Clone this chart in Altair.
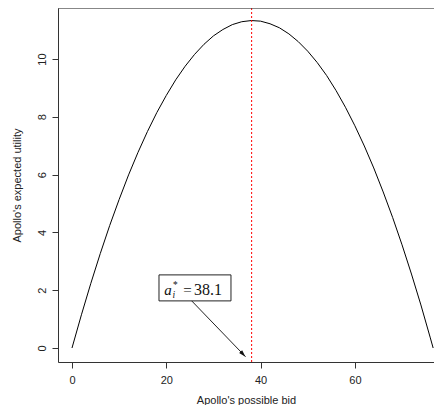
import altair as alt
import pandas as pd

# Apollo's possible bid (x) and expected utility (y)
bid = [0, 2, 4, 6, 8, 10, 12, 14, 16, 18, 20, 22, 24, 26, 28, 30, 32, 34, 36, 38,
       38.1, 40, 42, 44, 46, 48, 50, 52, 54, 56, 58, 60, 62, 64, 66, 68, 70, 72, 74, 76, 76.6]
utility = [0.0, 1.15, 2.24, 3.27, 4.24, 5.14, 5.99, 6.77, 7.49, 8.15, 8.74, 9.28, 9.75,
           10.16, 10.51, 10.80, 11.02, 11.19, 11.29, 11.33, 11.33, 11.31, 11.22, 11.08,
           10.87, 10.60, 10.27, 9.88, 9.43, 8.91, 8.33, 7.69, 6.99, 6.23, 5.40, 4.52,
           3.57, 2.56, 1.49, 0.35, 0.0]

optimum = 38.1
x_ticks = [0, 20, 40, 60]
y_ticks = [0, 2, 4, 6, 8, 10]

# annotation placement (data units)
box = {"x": 18.45, "x2": 33.72, "y": 1.63, "y2": 2.53}
arrow = {"x": 25.39, "y": 1.63, "x2": 36.8, "y2": -0.30}
label_anchor = {"x": 19.58, "y": 1.83}

df = pd.DataFrame({"bid": bid, "utility": utility})

XDOM = [-2.969, 76.78]
YDOM = [-0.484, 11.765]
W, H = 376, 354

xs = alt.Scale(domain=XDOM, nice=False, zero=False)
ys = alt.Scale(domain=YDOM, nice=False, zero=False)

x_axis = alt.Axis(values=x_ticks, grid=False, tickSize=6, labelPadding=6,
                  title="Apollo's possible bid", titleY=41.5, titleBaseline="alphabetic",
                  labelFont="Liberation Sans", labelFontSize=11, labelColor="#222",
                  titleFont="Liberation Sans", titleFontSize=11, titleFontWeight="normal",
                  titleColor="#222", domainColor="#333", tickColor="#333", labelFlush=False)
y_axis = alt.Axis(values=y_ticks, grid=False, tickSize=6, labelPadding=7,
                  labelAngle=270, labelAlign="center", labelBaseline="alphabetic",
                  title="Apollo's expected utility", titleX=-37.5, titleBaseline="alphabetic",
                  labelFont="Liberation Sans", labelFontSize=11, labelColor="#222",
                  titleFont="Liberation Sans", titleFontSize=11, titleFontWeight="normal",
                  titleColor="#222", domainColor="#333", tickColor="#333", labelFlush=False)

curve = alt.Chart(df).mark_line(color="black", strokeWidth=1).encode(
    x=alt.X("bid:Q", scale=xs, axis=x_axis),
    y=alt.Y("utility:Q", scale=ys, axis=y_axis),
    order="bid:Q",
)

vline = alt.Chart(pd.DataFrame({"opt": [optimum]})).mark_rule(
    color="#ff0000", strokeDash=[2, 2], strokeWidth=1).encode(
    x=alt.X("opt:Q", scale=xs)
)

top_border = alt.Chart(pd.DataFrame({"a": [0]})).mark_rule(color="#333", strokeWidth=1).encode(
    x=alt.value(0), x2=alt.value(W + 10), y=alt.value(0)
)

box_df = pd.DataFrame([box])
box_mark = alt.Chart(box_df).mark_rect(fill="white", stroke="#222", strokeWidth=1).encode(
    x=alt.X("x:Q", scale=xs), x2="x2:Q", y=alt.Y("y:Q", scale=ys), y2="y2:Q"
)

arrow_df = pd.DataFrame([arrow])
arrow_line = alt.Chart(arrow_df).mark_rule(color="#222", strokeWidth=1).encode(
    x=alt.X("x:Q", scale=xs), x2="x2:Q", y=alt.Y("y:Q", scale=ys), y2="y2:Q"
)
arrow_head = alt.Chart(arrow_df).mark_point(
    shape="M0,0 L-0.6,2 L0.6,2 Z", filled=True, color="#111", opacity=1,
    size=49, angle=136).encode(
    x=alt.X("x2:Q", scale=xs), y=alt.Y("y2:Q", scale=ys)
)

lab_df = pd.DataFrame([label_anchor])


def lab(text, dx, dy, size, style="normal", line_height=None):
    kw = dict(text=text, dx=dx, dy=dy, align="left", baseline="alphabetic",
              font="Liberation Serif", fontSize=size, fontStyle=style, color="#111")
    if line_height is not None:
        kw["lineHeight"] = line_height
    return alt.Chart(lab_df).mark_text(**kw).encode(
        x=alt.X("x:Q", scale=xs), y=alt.Y("y:Q", scale=ys))


labels = (lab("a", 0, 0, 15, "italic")
          + lab(["*", "i"], 8.3, -7, 9.5, "italic", 9.5)
          + lab("=", 19, 0, 15) + lab("38.1", 29.7, 0, 16))

chart = alt.layer(curve, vline, top_border, box_mark, arrow_line, arrow_head, labels).properties(
    width=W, height=H,
    autosize=alt.AutoSizeParams(type="none"),
    padding={"left": 50, "top": 0, "right": 0, "bottom": 43},
).configure_view(stroke=None).configure(background="white")

chart.save("out.html", embed_options={"renderer": "svg", "actions": False})
